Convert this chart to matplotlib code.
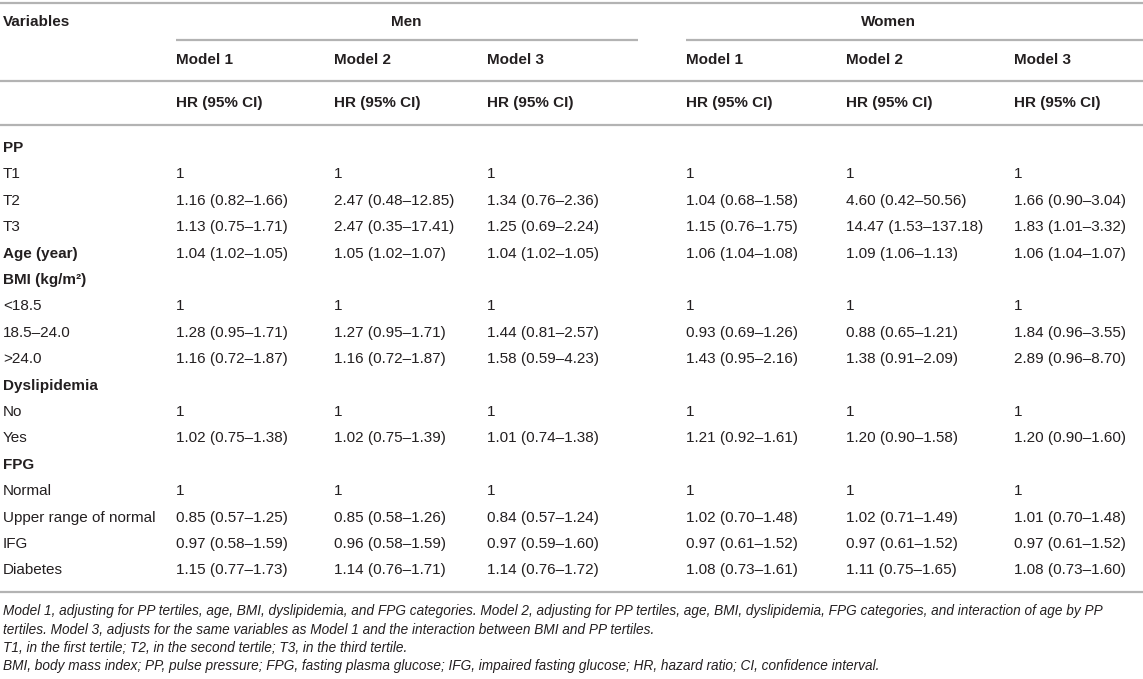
import matplotlib
matplotlib.use("Agg")
import matplotlib.pyplot as plt

W, H = 1143, 679

row_labels = ["PP", "T1", "T2", "T3", "Age (year)", "BMI (kg/m²)", "<18.5", "18.5–24.0", ">24.0",
              "Dyslipidemia", "No", "Yes", "FPG", "Normal", "Upper range of normal", "IFG", "Diabetes"]
row_bold = [True, False, False, False, True, True, False, False, False,
            True, False, False, True, False, False, False, False]

men_m1 = ["", "1", "1.16 (0.82–1.66)", "1.13 (0.75–1.71)", "1.04 (1.02–1.05)", "", "1", "1.28 (0.95–1.71)",
          "1.16 (0.72–1.87)", "", "1", "1.02 (0.75–1.38)", "", "1", "0.85 (0.57–1.25)", "0.97 (0.58–1.59)",
          "1.15 (0.77–1.73)"]
men_m2 = ["", "1", "2.47 (0.48–12.85)", "2.47 (0.35–17.41)", "1.05 (1.02–1.07)", "", "1", "1.27 (0.95–1.71)",
          "1.16 (0.72–1.87)", "", "1", "1.02 (0.75–1.39)", "", "1", "0.85 (0.58–1.26)", "0.96 (0.58–1.59)",
          "1.14 (0.76–1.71)"]
men_m3 = ["", "1", "1.34 (0.76–2.36)", "1.25 (0.69–2.24)", "1.04 (1.02–1.05)", "", "1", "1.44 (0.81–2.57)",
          "1.58 (0.59–4.23)", "", "1", "1.01 (0.74–1.38)", "", "1", "0.84 (0.57–1.24)", "0.97 (0.59–1.60)",
          "1.14 (0.76–1.72)"]
women_m1 = ["", "1", "1.04 (0.68–1.58)", "1.15 (0.76–1.75)", "1.06 (1.04–1.08)", "", "1", "0.93 (0.69–1.26)",
            "1.43 (0.95–2.16)", "", "1", "1.21 (0.92–1.61)", "", "1", "1.02 (0.70–1.48)", "0.97 (0.61–1.52)",
            "1.08 (0.73–1.61)"]
women_m2 = ["", "1", "4.60 (0.42–50.56)", "14.47 (1.53–137.18)", "1.09 (1.06–1.13)", "", "1", "0.88 (0.65–1.21)",
            "1.38 (0.91–2.09)", "", "1", "1.20 (0.90–1.58)", "", "1", "1.02 (0.71–1.49)", "0.97 (0.61–1.52)",
            "1.11 (0.75–1.65)"]
women_m3 = ["", "1", "1.66 (0.90–3.04)", "1.83 (1.01–3.32)", "1.06 (1.04–1.07)", "", "1", "1.84 (0.96–3.55)",
            "2.89 (0.96–8.70)", "", "1", "1.20 (0.90–1.60)", "", "1", "1.01 (0.70–1.48)", "0.97 (0.61–1.52)",
            "1.08 (0.73–1.60)"]

groups = ["Men", "Women"]
models = ["Model 1", "Model 2", "Model 3"]
stat_label = "HR (95% CI)"

footnotes = [
    "Model 1, adjusting for PP tertiles, age, BMI, dyslipidemia, and FPG categories. Model 2, adjusting for PP tertiles, age, BMI, dyslipidemia, FPG categories, and interaction of age by PP",
    "tertiles. Model 3, adjusts for the same variables as Model 1 and the interaction between BMI and PP tertiles.",
    "T1, in the first tertile; T2, in the second tertile; T3, in the third tertile.",
    "BMI, body mass index; PP, pulse pressure; FPG, fasting plasma glucose; IFG, impaired fasting glucose; HR, hazard ratio; CI, confidence interval.",
]

plt.rcParams["font.family"] = ["Liberation Sans", "DejaVu Sans"]
TXT = "#231f20"
RULE = "#b3b3b3"
FS = 11

fig = plt.figure(figsize=(W / 100, H / 100), dpi=100)
ax = fig.add_axes([0, 0, 1, 1])
ax.set_xlim(0, W)
ax.set_ylim(H, 0)
ax.axis("off")

col_x = [176, 334, 487, 686, 846, 1014]
group_spans = [(176, 638), (686, W)]
group_centers = [406, 888]

# header block
ax.hlines(3, 0, W, color=RULE, lw=1.6)
ax.text(3, 22, "Variables", fontsize=FS, fontweight="bold", color=TXT, va="center")
for g, (x0, x1), xc in zip(groups, group_spans, group_centers):
    ax.text(xc, 22, g, fontsize=FS, fontweight="bold", color=TXT, va="center", ha="center")
    ax.hlines(40, x0, x1, color=RULE, lw=1.6)
for i, x in enumerate(col_x):
    ax.text(x, 60, models[i % 3], fontsize=FS, fontweight="bold", color=TXT, va="center")
    ax.text(x, 103, stat_label, fontsize=FS, fontweight="bold", color=TXT, va="center")
ax.hlines(81, 0, W, color=RULE, lw=1.6)
ax.hlines(125, 0, W, color=RULE, lw=1.6)

# body rows
y0, dy = 148, 26.4
cols = [men_m1, men_m2, men_m3, women_m1, women_m2, women_m3]
for r, (lab, b) in enumerate(zip(row_labels, row_bold)):
    y = y0 + r * dy
    ax.text(3, y, lab, fontsize=FS, fontweight="bold" if b else "normal", color=TXT, va="center")
    for x, col in zip(col_x, cols):
        if col[r]:
            ax.text(x, y, col[r], fontsize=FS, color=TXT, va="center")

y_end = y0 + (len(row_labels) - 1) * dy + 22
ax.hlines(y_end, 0, W, color=RULE, lw=1.6)

for i, line in enumerate(footnotes):
    ax.text(3, y_end + 19 + i * 18.3, line, fontsize=9.8, style="italic", color=TXT, va="center")

fig.savefig("out.png", dpi=100)
